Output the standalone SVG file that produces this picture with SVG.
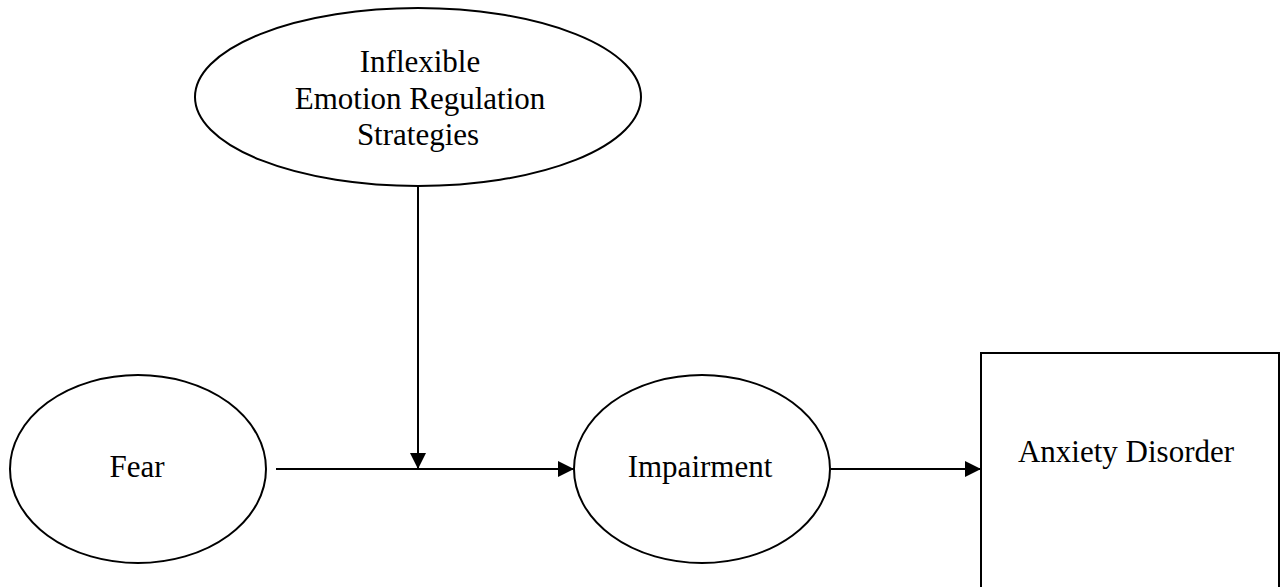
<svg xmlns="http://www.w3.org/2000/svg" width="1286" height="587" viewBox="0 0 1286 587">
<style>
.shape{fill:#fff;stroke:#000;stroke-width:2}
.lbl{font-family:"Liberation Serif","Times New Roman",serif;font-size:31px;fill:#000;text-anchor:middle}
.conn{stroke:#000;stroke-width:2;fill:none;marker-end:url(#ah)}
</style>
<defs>
<marker id="ah" viewBox="0 0 10 10" refX="10" refY="5" markerWidth="8" markerHeight="8" markerUnits="strokeWidth" orient="auto">
<path d="M0,0 L10,5 L0,10 Z" fill="#000"/>
</marker>
</defs>
<rect width="1286" height="587" fill="#fff"/>
<g id="node-ier">
<ellipse class="shape" cx="418" cy="97" rx="223" ry="89"/>
<text class="lbl" x="420" y="72">Inflexible</text>
<text class="lbl" x="420" y="109">Emotion Regulation</text>
<text class="lbl" x="418" y="145">Strategies</text>
</g>
<g id="node-fear">
<ellipse class="shape" cx="138" cy="469" rx="128" ry="94"/>
<text class="lbl" x="137" y="477">Fear</text>
</g>
<g id="node-impairment">
<ellipse class="shape" cx="702" cy="469" rx="128" ry="94"/>
<text class="lbl" x="700" y="477">Impairment</text>
</g>
<g id="node-anxiety">
<rect class="shape" x="981" y="353" width="298" height="250"/>
<text class="lbl" x="1126" y="462">Anxiety Disorder</text>
</g>
<g id="connectors">
<line class="conn" x1="276" y1="469" x2="574" y2="469"/>
<line class="conn" x1="418" y1="187" x2="418" y2="469"/>
<line class="conn" x1="831" y1="469" x2="981" y2="469"/>
</g>
</svg>
